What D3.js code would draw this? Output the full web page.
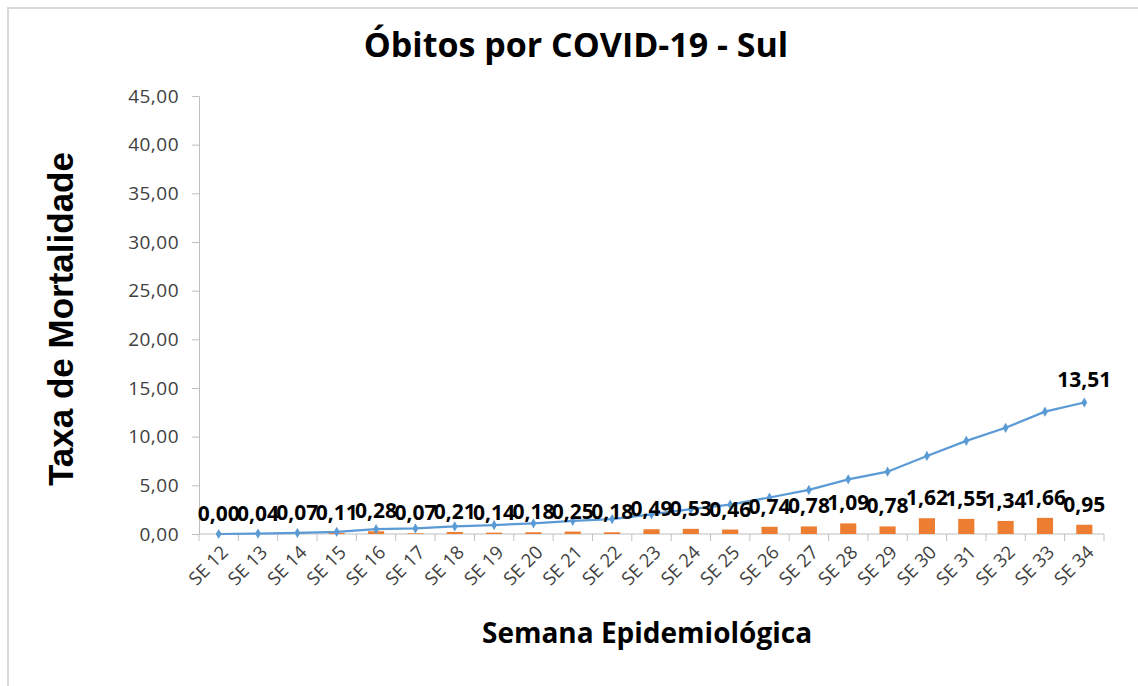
<!DOCTYPE html>
<html>
<head>
<meta charset="utf-8">
<script src="https://cdn.jsdelivr.net/npm/d3@7"></script>
<style>
  html, body { margin: 0; padding: 0; background: #fff; }
  svg text { font-family: 'Open Sans', sans-serif; }
</style>
</head>
<body>
<div id="chart"></div>
<script>
// weeks on the x axis
const semanas = ['SE 12', 'SE 13', 'SE 14', 'SE 15', 'SE 16', 'SE 17', 'SE 18', 'SE 19', 'SE 20', 'SE 21', 'SE 22', 'SE 23',
  'SE 24', 'SE 25', 'SE 26', 'SE 27', 'SE 28', 'SE 29', 'SE 30', 'SE 31', 'SE 32', 'SE 33', 'SE 34'];
// weekly rate (orange bars)
const taxaSemanal = [0.00, 0.04, 0.07, 0.11, 0.28, 0.07, 0.21, 0.14, 0.18, 0.25, 0.18, 0.49,
  0.53, 0.46, 0.74, 0.78, 1.09, 0.78, 1.62, 1.55, 1.34, 1.66, 0.95];
// accumulated rate (blue line)
const taxaAcumulada = [0.00, 0.04, 0.11, 0.22, 0.50, 0.57, 0.78, 0.92, 1.10, 1.35, 1.53, 2.02,
  2.55, 3.01, 3.75, 4.53, 5.62, 6.40, 8.02, 9.57, 10.91, 12.57, 13.51];
const yTicks = [0, 5, 10, 15, 20, 25, 30, 35, 40, 45];

const width = 1138;
const height = 686;
const margin = { top: 96, right: 34, bottom: 152, left: 199 };

const ptBR = d3.formatLocale({ decimal: ',', thousands: '.', grouping: [3], currency: ['R$', ''] });
const fmt = ptBR.format('.2f');

const svg = d3.select('#chart')
  .append('svg')
  .attr('width', width)
  .attr('height', height);

// chart frame (only top and left edges are visible in the original)
svg.append('path')
  .attr('d', `M8,${height} L8,8 L${width},8`)
  .style('fill', 'none')
  .style('stroke', '#d9d9d9')
  .style('stroke-width', '2px');

const x = d3.scaleBand()
  .domain(semanas)
  .range([margin.left, width - margin.right])
  .padding(0);

const y = d3.scaleLinear()
  .domain([0, 45])
  .range([height - margin.bottom, margin.top]);

const axisColor = '#bfbfbf';
const tickTextColor = '#404040';

// y axis
const yAxis = svg.append('g')
  .attr('transform', `translate(${margin.left},0)`)
  .call(d3.axisLeft(y).tickValues(yTicks).tickFormat(fmt).tickSize(7).tickPadding(13));
yAxis.select('.domain').style('stroke', axisColor);
yAxis.selectAll('.tick line').style('stroke', axisColor);
yAxis.selectAll('.tick text')
  .style('font-size', '19px')
  .style('letter-spacing', '0.5px')
  .style('fill', tickTextColor);

// x axis: ticks sit on the category boundaries
const bounds = semanas.map(d => x(d)).concat([x.range()[1]]);
const xAxis = svg.append('g')
  .attr('transform', `translate(0,${y(0)})`);
xAxis.append('line')
  .attr('x1', x.range()[0])
  .attr('x2', x.range()[1])
  .style('stroke', axisColor);
xAxis.selectAll('line.tick')
  .data(bounds)
  .enter()
  .append('line')
  .attr('class', 'tick')
  .attr('x1', d => d)
  .attr('x2', d => d)
  .attr('y1', 0)
  .attr('y2', 7)
  .style('stroke', axisColor);
xAxis.selectAll('text')
  .data(semanas)
  .enter()
  .append('text')
  .attr('transform', d => `translate(${x(d) + x.bandwidth() / 2 + 6},${15}) rotate(-45)`)
  .attr('text-anchor', 'end')
  .attr('dy', '0.35em')
  .style('font-size', '18.5px')
  .style('fill', tickTextColor)
  .text(d => d);

// bars
const barW = x.bandwidth() * 0.41;
svg.append('g')
  .selectAll('rect')
  .data(taxaSemanal)
  .enter()
  .append('rect')
  .attr('x', (d, i) => x(semanas[i]) + (x.bandwidth() - barW) / 2)
  .attr('y', d => y(d))
  .attr('width', barW)
  .attr('height', d => y(0) - y(d))
  .style('fill', '#ed7d31');

// line + diamond markers
const line = d3.line()
  .x((d, i) => x(semanas[i]) + x.bandwidth() / 2)
  .y(d => y(d));

svg.append('path')
  .datum(taxaAcumulada)
  .attr('d', line)
  .style('fill', 'none')
  .style('stroke', '#5b9bd5')
  .style('stroke-width', '2.25px');

svg.append('g')
  .selectAll('path')
  .data(taxaAcumulada)
  .enter()
  .append('path')
  .attr('d', d3.symbol().type(d3.symbolDiamond).size(30))
  .attr('transform', (d, i) => `translate(${x(semanas[i]) + x.bandwidth() / 2},${y(d)})`)
  .style('fill', '#5b9bd5');

// bar labels
svg.append('g')
  .selectAll('text')
  .data(taxaSemanal)
  .enter()
  .append('text')
  .attr('x', (d, i) => x(semanas[i]) + x.bandwidth() / 2)
  .attr('y', d => y(d) - 13)
  .attr('text-anchor', 'middle')
  .style('font-size', '21px')
  .style('font-weight', 'bold')
  .style('fill', '#000')
  .text(d => fmt(d));

// label on the last point of the line
const last = taxaAcumulada.length - 1;
svg.append('text')
  .attr('x', x(semanas[last]) + x.bandwidth() / 2)
  .attr('y', y(taxaAcumulada[last]) - 16)
  .attr('text-anchor', 'middle')
  .style('font-size', '21px')
  .style('font-weight', 'bold')
  .text(fmt(taxaAcumulada[last]));

// titles
svg.append('text')
  .attr('x', 576)
  .attr('y', 57)
  .attr('text-anchor', 'middle')
  .style('font-size', '34px')
  .style('font-weight', 'bold')
  .text('Óbitos por COVID-19 - Sul');

svg.append('text')
  .attr('transform', `translate(73,${(margin.top + y(0)) / 2 + 4}) rotate(-90)`)
  .attr('text-anchor', 'middle')
  .style('font-family', "'Liberation Sans', Arial, sans-serif")
  .style('font-size', '35px')
  .style('font-weight', 'bold')
  .text('Taxa de Mortalidade');

svg.append('text')
  .attr('x', 647)
  .attr('y', 643)
  .attr('text-anchor', 'middle')
  .style('font-size', '28px')
  .style('font-weight', 'bold')
  .text('Semana Epidemiológica');
</script>
</body>
</html>
